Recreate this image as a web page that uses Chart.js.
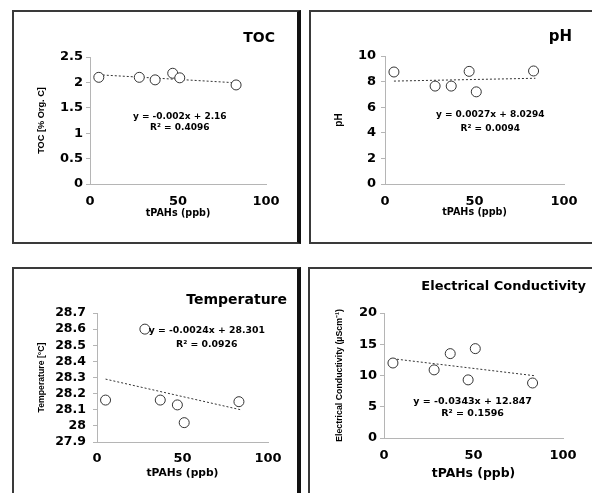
<!DOCTYPE html>
<html>
<head>
<meta charset="utf-8">
<script src="https://cdn.jsdelivr.net/npm/chart.js@4.4.0/dist/chart.umd.min.js"></script>
<style>
  body { margin: 0; background: #fff; }
  .panel { position: absolute; box-sizing: border-box; background: #fff; }
  .panel canvas { display: block; }
  #p1 { left: 12px; top: 10px; width: 289px; height: 234px; border: 2px solid #3a3a3a; border-right: 4px solid #111; }
  #p2 { left: 309px; top: 10px; width: 283px; height: 234px; border: 2px solid #3a3a3a; border-right: none; }
  #p3 { left: 12px; top: 267px; width: 289px; height: 226px; border: 2px solid #3a3a3a; border-right: 4px solid #111; border-bottom: none; }
  #p4 { left: 308px; top: 267px; width: 284px; height: 226px; border: 2px solid #3a3a3a; border-right: none; border-bottom: none; }
</style>
</head>
<body>
<div class="panel" id="p1"><canvas id="c1" width="283" height="230"></canvas></div>
<div class="panel" id="p2"><canvas id="c2" width="281" height="230"></canvas></div>
<div class="panel" id="p3"><canvas id="c3" width="283" height="224"></canvas></div>
<div class="panel" id="p4"><canvas id="c4" width="282" height="224"></canvas></div>
<script>
// sample values
var tpahs = [5, 28, 37, 47, 51, 83];
var toc = [2.10, 2.10, 2.05, 2.18, 2.09, 1.95];
var ph = [8.75, 7.65, 7.65, 8.80, 7.20, 8.83];
var temperature = [28.16, 28.60, 28.16, 28.13, 28.02, 28.15];
var conductivity = [12.0, 10.9, 13.5, 9.3, 14.3, 8.8];

// trend line ends
var trendX = [5, 84];
var tocTrend = [2.15, 1.99];
var phTrend = [8.04, 8.26];
var tempTrend = [28.29, 28.10];
var ecTrend = [12.68, 9.97];

var xTicks = ['0', '50', '100'];
var tocTicks = ['0', '0.5', '1', '1.5', '2', '2.5'];
var phTicks = ['0', '2', '4', '6', '8', '10'];
var tempTicks = ['27.9', '28', '28.1', '28.2', '28.3', '28.4', '28.5', '28.6', '28.7'];
var ecTicks = ['0', '5', '10', '15', '20'];

var FONT = '"DejaVu Sans", sans-serif';
var NARROW = '"Liberation Sans", Arial, sans-serif';
var AXIS = '#b5b5b5';

var panelText = {
    id: 'panelText',
    afterDraw: function (chart, args, o) {
        var ctx = chart.ctx;
        var sx = chart.scales.x, sy = chart.scales.y;
        ctx.save();
        ctx.fillStyle = '#000';
        ctx.textBaseline = 'middle';
        ctx.font = 'bold ' + o.titleSize + 'px ' + FONT;
        ctx.textAlign = 'right';
        ctx.fillText(o.title, o.titleX, o.titleY);
        ctx.font = 'bold ' + o.eqSize + 'px ' + FONT;
        ctx.textAlign = 'center';
        var px = sx.getPixelForValue(o.eqX);
        ctx.fillText(o.eq[0], px, sy.getPixelForValue(o.eqY[0]));
        ctx.fillText(o.eq[1], px, sy.getPixelForValue(o.eqY[1]));
        ctx.restore();
    }
};

function makePanel(id, c) {
    var pts = c.values.map(function (v, i) { return {x: tpahs[i], y: v}; });
    var line = trendX.map(function (x, i) { return {x: x, y: c.trend[i]}; });
    return new Chart(document.getElementById(id), {
        type: 'scatter',
        data: {
            datasets: [
                {data: pts, pointRadius: 5, pointBackgroundColor: '#fff', pointBorderColor: '#333', pointBorderWidth: 1, order: 0},
                {type: 'line', data: line, borderColor: '#333', borderWidth: 1, borderDash: [2, 2], pointRadius: 0, fill: false, order: 1}
            ]
        },
        options: {
            responsive: false,
            animation: false,
            layout: {padding: {top: c.top, right: c.right, left: 0, bottom: 0}},
            plugins: {
                legend: {display: false},
                tooltip: {enabled: false},
                panelText: c.text
            },
            scales: {
                x: {
                    type: 'linear', min: 0, max: 100,
                    ticks: {stepSize: 50, padding: c.xTickPad, color: '#000', font: {family: FONT, weight: 'bold', size: 13},
                        callback: function (v, i) { return xTicks[i]; }},
                    grid: {drawOnChartArea: false, drawTicks: false, color: AXIS},
                    border: {color: AXIS},
                    title: {display: true, text: 'tPAHs (ppb)', color: '#000', font: {family: FONT, weight: 'bold', size: c.xTitleSize},
                        padding: {top: 0, bottom: c.xTitlePad}},
                    afterFit: function (s) { s.height = c.xh; s.paddingLeft = 0; s.paddingRight = 0; }
                },
                y: {
                    min: c.min, max: c.max,
                    ticks: {stepSize: c.step, autoSkip: false, padding: c.yTickPad, color: '#000', font: {family: FONT, weight: 'bold', size: c.yTickSize},
                        callback: function (v, i) { return c.labels[i]; }},
                    grid: {drawOnChartArea: false, drawTicks: true, tickLength: 4, color: AXIS},
                    border: {color: AXIS},
                    title: {display: true, text: c.yTitle, color: '#000', font: {family: NARROW, weight: 'bold', size: c.yTitleSize},
                        padding: {top: c.yTitlePad, bottom: 0}},
                    afterFit: function (s) { s.width = c.yw; s.paddingTop = 0; s.paddingBottom = 0; }
                }
            }
        },
        plugins: [panelText]
    });
}

makePanel('c1', {
    values: toc, trend: tocTrend, min: 0, max: 2.5, step: 0.5, labels: tocTicks,
    top: 45, right: 31, yw: 76, xh: 58,
    xTickPad: 10, xTitleSize: 9.6, xTitlePad: 23,
    yTickPad: 3, yTickSize: 13, yTitle: 'TOC [% Org. C]', yTitleSize: 9.2, yTitlePad: 22,
    text: {title: 'TOC', titleSize: 14, titleX: 261, titleY: 26,
        eq: ['y = -0.002x + 2.16', 'R² = 0.4096'], eqSize: 9, eqX: 51, eqY: [1.32, 1.10]}
});

makePanel('c2', {
    values: ph, trend: phTrend, min: 0, max: 10, step: 2, labels: phTicks,
    top: 44, right: 28, yw: 74, xh: 58,
    xTickPad: 10, xTitleSize: 9.6, xTitlePad: 24,
    yTickPad: 5, yTickSize: 13, yTitle: 'pH', yTitleSize: 10, yTitlePad: 22,
    text: {title: 'pH', titleSize: 15, titleX: 261, titleY: 25,
        eq: ['y = 0.0027x + 8.0294', 'R² = 0.0094'], eqSize: 9, eqX: 58.8, eqY: [5.45, 4.35]}
});

makePanel('c3', {
    values: temperature, trend: tempTrend, min: 27.9, max: 28.7, step: 0.1, labels: tempTicks,
    top: 44, right: 29, yw: 83, xh: 51,
    xTickPad: 9, xTitleSize: 10.7, xTitlePad: 13,
    yTickPad: 7, yTickSize: 12.5, yTitle: 'Temperature [°C]', yTitleSize: 8.7, yTitlePad: 22,
    text: {title: 'Temperature', titleSize: 14, titleX: 273, titleY: 31,
        eq: ['y = -0.0024x + 28.301', 'R² = 0.0926'], eqSize: 9.3, eqX: 64.2, eqY: [28.593, 28.506]}
});

makePanel('c4', {
    values: conductivity, trend: ecTrend, min: 0, max: 20, step: 5, labels: ecTicks,
    top: 44, right: 29, yw: 74, xh: 55,
    xTickPad: 9.5, xTitleSize: 12.4, xTitlePad: 12,
    yTickPad: 3, yTickSize: 13, yTitle: 'Electrical Conductivity (µScm⁻¹)', yTitleSize: 8.8, yTitlePad: 24,
    text: {title: 'Electrical Conductivity', titleSize: 13, titleX: 276, titleY: 18,
        eq: ['y = -0.0343x + 12.847', 'R² = 0.1596'], eqSize: 9.5, eqX: 49.5, eqY: [5.79, 3.92]}
});
</script>
</body>
</html>
